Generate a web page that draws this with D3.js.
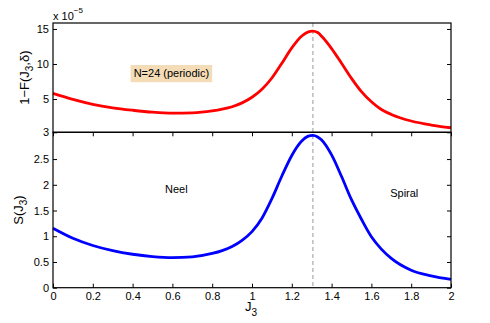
<!DOCTYPE html>
<html>
<head>
<meta charset="utf-8">
<script src="https://cdn.jsdelivr.net/npm/d3@7"></script>
<style>
  body { margin: 0; background: #fff; }
  svg text { font-family: "Liberation Sans", Arial, sans-serif; fill: #000; }
</style>
</head>
<body>
<div id="chart"></div>
<script>
// J3 values shared by both curves
const j3 = [0, 0.1, 0.2, 0.3, 0.4, 0.5, 0.6, 0.7, 0.8, 0.85, 0.9, 0.95, 1.0, 1.05, 1.1, 1.15, 1.2, 1.25, 1.28, 1.306,
            1.33, 1.35, 1.4, 1.45, 1.5, 1.55, 1.6, 1.65, 1.7, 1.8, 1.9, 2.0];

// 1-F(J3, delta), units of 1e-5
const fidelity = [5.8, 4.95, 4.25, 3.75, 3.4, 3.12, 2.98, 3.02, 3.3, 3.55, 3.9, 4.45, 5.25, 6.4, 8.0, 10.1, 12.3, 14.0, 14.55, 14.7,
                  14.5, 13.95, 12.2, 10.1, 7.95, 6.05, 4.6, 3.5, 2.8, 1.86, 1.29, 0.9];

// S(J3)
const entropy = [1.155, 0.96, 0.82, 0.72, 0.65, 0.605, 0.585, 0.6, 0.665, 0.72, 0.8, 0.92, 1.09, 1.35, 1.73, 2.17, 2.57, 2.85, 2.94, 2.96,
                 2.93, 2.87, 2.58, 2.16, 1.71, 1.33, 0.99, 0.75, 0.57, 0.34, 0.23, 0.16];

const criticalJ3 = 1.306;

const xTicks = [0, 0.2, 0.4, 0.6, 0.8, 1, 1.2, 1.4, 1.6, 1.8, 2];
const topTicks = [0.25, 5, 10, 15];
const topTickLabels = ["3", "5", "10", "15"];
const bottomTicks = [0, 0.5, 1, 1.5, 2, 2.5];

const width = 490, height = 323;
const pLeft = 53, pRight = 451, pTop = 23, pMid = 132.3, pBottom = 287.7;

const svg = d3.select("#chart").append("svg")
    .attr("width", width)
    .attr("height", height);

const x = d3.scaleLinear().domain([0, 2]).range([pLeft, pRight]);
const yTop = d3.scaleLinear().domain([0.25, 15.85]).range([pMid, pTop]);
const yBot = d3.scaleLinear().domain([0, 3.02]).range([pBottom, pMid]);

function styleAxis(g) {
  g.select(".domain").remove();
  g.selectAll(".tick line").attr("stroke", "#000");
  g.selectAll(".tick text").attr("font-size", 11).attr("fill", "#000")
   .attr("font-family", "Liberation Sans, Arial, sans-serif");
}

// top panel axes
svg.append("g").attr("transform", `translate(${pLeft},0)`)
   .call(d3.axisLeft(yTop).tickValues(topTicks).tickFormat((d, i) => topTickLabels[i])
         .tickSizeInner(-4).tickSizeOuter(0).tickPadding(4))
   .call(styleAxis);
svg.append("g").attr("transform", `translate(${pRight},0)`)
   .call(d3.axisRight(yTop).tickValues(topTicks).tickFormat("").tickSizeInner(-4).tickSizeOuter(0))
   .call(styleAxis);

// bottom panel axes
svg.append("g").attr("transform", `translate(${pLeft},0)`)
   .call(d3.axisLeft(yBot).tickValues(bottomTicks).tickFormat(d3.format("~g"))
         .tickSizeInner(-4).tickSizeOuter(0).tickPadding(4))
   .call(styleAxis);
svg.append("g").attr("transform", `translate(${pRight},0)`)
   .call(d3.axisRight(yBot).tickValues(bottomTicks).tickFormat("").tickSizeInner(-4).tickSizeOuter(0))
   .call(styleAxis);
svg.append("g").attr("transform", `translate(0,${pBottom})`)
   .call(d3.axisBottom(x).tickValues(xTicks).tickFormat(d3.format("~g"))
         .tickSizeInner(-4).tickSizeOuter(0).tickPadding(5))
   .call(styleAxis);
svg.append("g").attr("transform", `translate(0,${pMid})`)
   .call(d3.axisTop(x).tickValues(xTicks).tickFormat("").tickSizeInner(-4).tickSizeOuter(0))
   .call(styleAxis);

// dashed line at the critical point
svg.append("line")
   .attr("x1", x(criticalJ3)).attr("x2", x(criticalJ3))
   .attr("y1", pTop).attr("y2", pBottom)
   .attr("stroke", "#aaaaaa")
   .attr("stroke-width", 1.2)
   .attr("stroke-dasharray", "4,3");

// curves
const lineTop = d3.line().x((d, i) => x(j3[i])).y(d => yTop(d)).curve(d3.curveMonotoneX);
const lineBot = d3.line().x((d, i) => x(j3[i])).y(d => yBot(d)).curve(d3.curveMonotoneX);

svg.append("path").datum(fidelity)
   .attr("d", lineTop).attr("fill", "none")
   .attr("stroke", "#ff0000").attr("stroke-width", 2.8);

svg.append("path").datum(entropy)
   .attr("d", lineBot).attr("fill", "none")
   .attr("stroke", "#0000ff").attr("stroke-width", 2.8);

// panel frames
svg.append("rect").attr("x", pLeft).attr("y", pTop).attr("width", pRight - pLeft).attr("height", pMid - pTop)
   .attr("fill", "none").attr("stroke", "#000").attr("stroke-width", 1.2);
svg.append("rect").attr("x", pLeft).attr("y", pMid).attr("width", pRight - pLeft).attr("height", pBottom - pMid)
   .attr("fill", "none").attr("stroke", "#000").attr("stroke-width", 1.2);

// exponent label
const expo = svg.append("text").attr("x", pLeft).attr("y", 20).attr("font-size", 11);
expo.append("tspan").text("x 10");
expo.append("tspan").attr("dy", -7).attr("font-size", 8).text("\u22125");

// annotation box
svg.append("rect")
   .attr("x", x(0.39)).attr("y", yTop(9.85))
   .attr("width", x(0.80) - x(0.39)).attr("height", yTop(7.4) - yTop(9.85))
   .attr("fill", "#f3dcb6");
svg.append("text")
   .attr("x", x(0.595)).attr("y", yTop(8.1))
   .attr("text-anchor", "middle").attr("font-size", 11)
   .text("N=24 (periodic)");

svg.append("text").attr("x", x(0.62)).attr("y", yBot(1.84))
   .attr("text-anchor", "middle").attr("font-size", 11).text("Neel");
svg.append("text").attr("x", x(1.765)).attr("y", yBot(1.76))
   .attr("text-anchor", "middle").attr("font-size", 11).text("Spiral");

// axis labels
const yl1 = svg.append("text")
   .attr("transform", `translate(29,${(pTop + pMid) / 2}) rotate(-90)`)
   .attr("text-anchor", "middle").attr("font-size", 13);
yl1.append("tspan").text("1\u2212F(J");
yl1.append("tspan").attr("dy", 4).attr("font-size", 10).text("3");
yl1.append("tspan").attr("dy", -4).text(",\u03b4)");

const yl2 = svg.append("text")
   .attr("transform", `translate(23,${(pMid + pBottom) / 2}) rotate(-90)`)
   .attr("text-anchor", "middle").attr("font-size", 13);
yl2.append("tspan").text("S(J");
yl2.append("tspan").attr("dy", 4).attr("font-size", 10).text("3");
yl2.append("tspan").attr("dy", -4).text(")");

const xl = svg.append("text")
   .attr("x", x(1) - 7).attr("y", 311).attr("font-size", 13);
xl.append("tspan").text("J");
xl.append("tspan").attr("dy", 5).attr("font-size", 10).text("3");
</script>
</body>
</html>
